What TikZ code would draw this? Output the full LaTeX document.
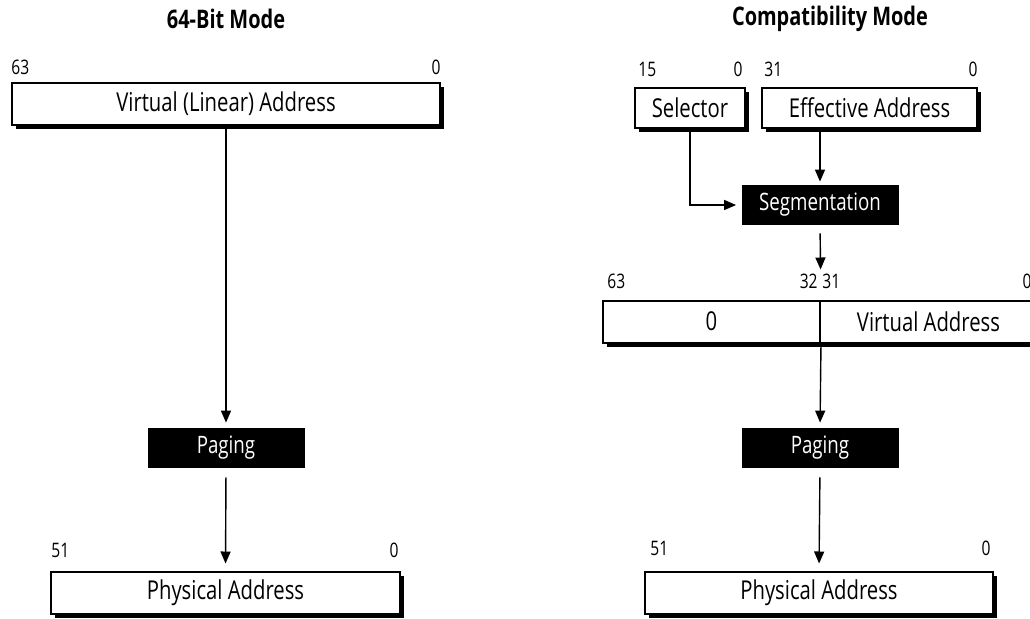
\documentclass[tikz,border=0pt]{standalone}
\usepackage{fontspec}
\setmainfont[FakeStretch=0.78]{Open Sans}
\usetikzlibrary{arrows.meta,shadows,positioning}

\tikzset{
	regbox/.style={draw, line width=1pt, fill=white, inner sep=0pt, minimum height=21pt,
		font=\fontsize{13}{15}\selectfont,
		drop shadow={shadow xshift=2pt, shadow yshift=-2pt, fill=black, opacity=1}},
	unitbox/.style={fill=black, text=white, inner sep=0pt, minimum width=78.5pt, minimum height=20pt,
		font=\fontsize{12}{14}\selectfont},
	bitno/.style={inner sep=0pt, font=\fontsize{10}{12}\selectfont},
	modetitle/.style={inner sep=0pt, font=\bfseries\fontsize{12.8}{15}\selectfont},
	conn/.style={->, line width=0.7pt}
}

\begin{document}
\begin{tikzpicture}[x=0.5pt, y=-0.5pt, >={Triangle[length=6pt,width=5pt]}]
	\useasboundingbox (0,0) rectangle (1030,618);
	\clip (0,0) rectangle (1030,618);

	% 64-bit mode
	\node[modetitle] (ttlL) at (226,19) {64-Bit Mode};
	\node[regbox, minimum width=214pt] (virt) at (226,104) {Virtual (Linear) Address};
	\node[unitbox] (pagL) at (226,448) {Paging};
	\node[regbox, minimum width=174.5pt] (physL) at (225.5,592.5) {Physical Address};
	\node[bitno, above right=3.5pt and 0pt of virt.north west] {63};
	\node[bitno, above left=3.5pt and 0pt of virt.north east] {0};
	\node[bitno, above right=6pt and 0.5pt of physL.north west] {51};
	\node[bitno, above left=6pt and 1pt of physL.north east] {0};
	\draw[conn, shorten >=2.5pt] (virt.south) -- (pagL.north);
	\draw[conn, shorten <=4.5pt, shorten >=3.5pt] (pagL.south) -- (physL.north);

	% compatibility mode
	\node[modetitle] (ttlR) at (830,19) {Compatibility Mode};
	\node[regbox, minimum width=55pt, minimum height=20pt] (sel) at (690,108) {Selector};
	\node[regbox, minimum width=107.5pt, minimum height=20pt] (eff) at (869.5,108) {Effective Address};
	\node[unitbox] (seg) at (820,205) {Segmentation};
	\node[regbox, minimum width=108.5pt] (zero) at (711.5,321.5) {0};
	\node[regbox, minimum width=108.5pt] (vaddr) at (928.5,321.5) {Virtual Address};
	\node[unitbox] (pagR) at (820,448) {Paging};
	\node[regbox, minimum width=174pt] (physR) at (819,592.5) {Physical Address};

	\node[bitno, above right=5pt and 2pt of sel.north west] {15};
	\node[bitno, above left=5pt and 1.5pt of sel.north east] {0};
	\node[bitno, above right=5pt and 1.5pt of eff.north west] {31};
	\node[bitno, above left=5pt and 0pt of eff.north east] {0};
	\node[bitno, above right=5pt and 2.5pt of zero.north west] {63};
	\node[bitno, above left=5pt and 1.5pt of zero.north east] {32};
	\node[bitno, above right=5pt and 1.5pt of vaddr.north west] {31};
	\node[bitno, above left=5pt and 3pt of vaddr.north east] {0};
	\node[bitno, above right=7pt and 3pt of physR.north west] {51};
	\node[bitno, above left=7pt and 1.5pt of physR.north east] {0};

	\draw[conn, shorten >=2.5pt] (sel.south) |- (seg.west);
	\draw[conn, shorten >=1.5pt] (eff.south -| seg.north) -- (seg.north);
	\draw[conn, shorten <=4pt, shorten >=15pt] (seg.south) -- (zero.north east);
	\draw[conn, shorten >=2.5pt] (zero.south east) -- (pagR.north);
	\draw[conn, shorten <=4.5pt, shorten >=3.5pt] (pagR.south) -- (physR.north);
\end{tikzpicture}
\end{document}
